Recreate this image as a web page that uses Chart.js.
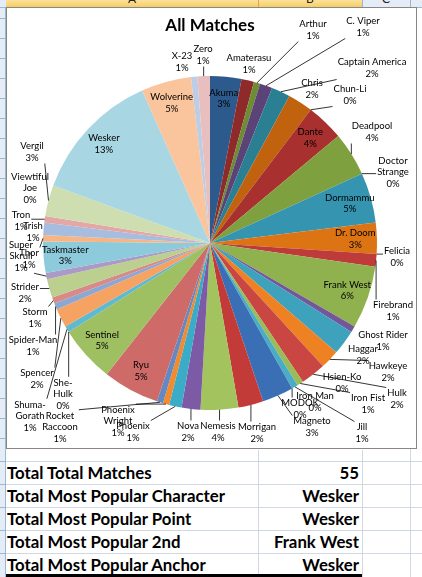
<!DOCTYPE html>
<html>
<head>
<meta charset="utf-8">
<script src="https://cdn.jsdelivr.net/npm/chart.js@4/dist/chart.umd.min.js"></script>
<style>
  body { margin: 0; width: 422px; height: 577px; overflow: hidden; background: #fff; position: relative; font-family: Lato, sans-serif; }
  .abs { position: absolute; }
  .hl { position: absolute; height: 1px; background: #d0d7e5; }
  .vl { position: absolute; width: 1px; background: #d0d7e5; }
  .cell { position: absolute; font-weight: bold; font-size: 16.8px; color: #000; line-height: 23px; white-space: nowrap; }
</style>
</head>
<body>
<!-- column header strip -->
<div class="abs" style="left:0;top:0;width:422px;height:7px;background:#e4ecf7;border-bottom:1px solid #9eb6ce;"></div>
<div class="abs" style="left:6px;top:0;width:356px;height:7px;background:linear-gradient(#fbe29c,#f6cd63);border-bottom:1px solid #f2a93b;"></div>
<div class="vl" style="left:258px;top:0;height:7px;background:#e1a545"></div>
<div class="vl" style="left:362px;top:0;height:7px;background:#9eb6ce"></div>
<div class="vl" style="left:410px;top:0;height:7px;background:#9eb6ce"></div>
<div class="abs" style="left:128px;top:-9px;font:12px Lato;color:#222">A</div>
<div class="abs" style="left:306px;top:-9px;font:12px Lato;color:#222">B</div>
<div class="abs" style="left:382px;top:-9px;font:12px Lato;color:#222">C</div>
<!-- row header strip -->
<div class="abs" style="left:0;top:8px;width:5px;height:569px;background:#e4ecf7;border-right:1px solid #9eb6ce;"></div>
<div id="rowlines"></div>
<!-- sheet gridlines around table -->
<div class="vl" style="left:258px;top:450px;height:127px"></div>
<div class="vl" style="left:362px;top:450px;height:127px"></div>
<div class="vl" style="left:410px;top:8px;height:569px"></div>
<div class="hl" style="left:6px;top:461px;width:416px"></div>
<div class="hl" style="left:6px;top:484px;width:416px"></div>
<div class="hl" style="left:6px;top:507px;width:416px"></div>
<div class="hl" style="left:6px;top:530px;width:416px"></div>
<div class="hl" style="left:6px;top:553px;width:416px"></div>
<div class="abs" style="left:6px;top:574px;width:356px;height:3px;background:#000"></div>

<!-- chart object -->
<div class="abs" style="left:6px;top:7px;width:411px;height:442px;background:#fff;">
  <canvas id="pie"></canvas>
</div>
<div class="abs" style="left:6px;top:7px;width:409px;height:440px;border:1px solid #878787;pointer-events:none"></div>

<div id="table"></div>

<script>
// characters in sheet order and their match counts
var characters = ["Akuma", "Amaterasu", "Arthur", "C. Viper", "Captain America", "Chris",
  "Chun-Li", "Dante", "Deadpool", "Doctor Strange", "Dormammu", "Dr. Doom",
  "Felicia", "Firebrand", "Frank West", "Ghost Rider", "Haggar", "Hawkeye",
  "Hsien-Ko", "Hulk", "Iron Fist", "Iron Man", "Jill", "MODOK",
  "Magneto", "Morrigan", "Nemesis", "Nova", "Phoenix", "Phoenix Wright",
  "Rocket Raccoon", "Ryu", "Sentinel", "She-Hulk", "Shuma-Gorath", "Spencer",
  "Spider-Man", "Storm", "Strider", "Super Skrull", "Taskmaster", "Thor",
  "Trish", "Tron", "Vergil", "Viewtiful Joe", "Wesker", "Wolverine",
  "X-23", "Zero"];
var counts = [5, 2, 1, 2, 3, 4,
  0, 6, 7, 0, 8, 5,
  0, 2, 10, 1, 4, 3,
  0, 4, 1, 0, 1, 0,
  5, 4, 6, 3, 2, 1,
  1, 9, 9, 0, 1, 3,
  1, 1, 3, 1, 5, 1,
  2, 1, 5, 0, 21, 8,
  1, 2];

var summaryLabels = ["Total Total Matches", "Total Most Popular Character", "Total Most Popular Point",
  "Total Most Popular 2nd", "Total Most Popular Anchor"];
var summaryValues = ["55", "Wesker", "Wesker", "Frank West", "Wesker"];

var sliceColors = [
  "#2c5a8c", "#8e2b2a", "#6e8c34", "#5b4378", "#2b7f93", "#c0620e",
  "#3a6ea8", "#a8302e", "#7fa03e", "#6a4f8f", "#3595b0", "#dd7414",
  "#4579b5", "#be3b3a", "#90b24e", "#74579a", "#3ea2bd", "#ee8222",
  "#4f81bd", "#c94643", "#9bbb59", "#8064a2", "#4bacc6", "#f79646",
  "#3a6fb5", "#c33b38", "#a3c35f", "#7d5aa5", "#3cabc8", "#f28a2e",
  "#6388c2", "#ce6b68", "#9fbf63", "#9a85b8", "#5fbad1", "#f5a263",
  "#8ba8d3", "#d88a88", "#bbd08e", "#ab9ac6", "#8dcadb", "#f8b584",
  "#a7bde0", "#e3a7a5", "#cfdeb0", "#c3b7d6", "#a9d6e3", "#fac49c",
  "#bccde6", "#e8bfbe"];

// outside label centres, offset from pie centre (px at radius 167)
var outsideAt = {
  "Amaterasu": [39, -179], "Arthur": [103, -213], "C. Viper": [153, -216],
  "Captain America": [162, -175], "Chris": [102, -154], "Chun-Li": [140, -148],
  "Deadpool": [162, -111], "Doctor Strange": [183, -71], "Felicia": [187, 14],
  "Firebrand": [183, 68], "Ghost Rider": [173, 98], "Haggar": [153, 112],
  "Hawkeye": [178, 129], "Hsien-Ko": [132, 140], "Hulk": [187, 156],
  "Iron Fist": [158, 161], "Iron Man": [105, 159], "Jill": [152, 190],
  "MODOK": [90, 166], "Magneto": [102, 184], "Morrigan": [47, 190],
  "Nemesis": [8, 189], "Nova": [-22, 189], "Phoenix": [-77, 189],
  "Phoenix Wright": [-92, 178], "Rocket Raccoon": [-150, 184], "She-Hulk": [-147, 151],
  "Shuma-Gorath": [-180, 173], "Spencer": [-173, 136], "Spider-Man": [-177, 103],
  "Storm": [-175, 75], "Strider": [-185, 50], "Super Skrull": [-189, 13],
  "Thor": [-181, 16], "Trish": [-177, -11], "Tron": [-189, -22],
  "Viewtiful Joe": [-180, -55], "Vergil": [-178, -91], "X-23": [-28, -181],
  "Zero": [-7, -188]
};
var wrapped = ["Doctor Strange", "Phoenix Wright", "Rocket Raccoon", "Super Skrull",
  "Viewtiful Joe", "She-Hulk", "Shuma-Gorath"];

function nameLines(name) {
  if (wrapped.indexOf(name) < 0) return [name];
  if (name.indexOf(" ") > 0) { var k = name.indexOf(" "); return [name.slice(0, k), name.slice(k + 1)]; }
  var h = name.indexOf("-") + 1;
  return [name.slice(0, h), name.slice(h)];
}

// row lines in the row header
var rl = document.getElementById("rowlines");
for (var y = 18; y < 450; y += 20) {
  var d = document.createElement("div");
  d.className = "abs";
  d.style.cssText = "left:0;width:5px;height:1px;background:#9eb6ce;top:" + y + "px";
  rl.appendChild(d);
}
[461, 484, 507, 530, 553].forEach(function (y) {
  var d = document.createElement("div");
  d.className = "abs";
  d.style.cssText = "left:0;width:5px;height:1px;background:#9eb6ce;top:" + y + "px";
  rl.appendChild(d);
});

// summary table
var tb = document.getElementById("table");
summaryLabels.forEach(function (t, i) {
  var a = document.createElement("div");
  a.className = "cell";
  a.style.cssText = "left:7px;top:" + (461 + i * 23) + "px";
  a.textContent = t;
  tb.appendChild(a);
  var b = document.createElement("div");
  b.className = "cell";
  b.style.cssText = "right:" + (422 - 359) + "px;top:" + (461 + i * 23) + "px";
  b.textContent = summaryValues[i];
  tb.appendChild(b);
});

var sliceLabels = {
  id: "sliceLabels",
  afterDatasetsDraw: function (chart) {
    var ctx = chart.ctx;
    var meta = chart.getDatasetMeta(0);
    var total = counts.reduce(function (a, b) { return a + b; }, 0);
    ctx.save();
    ctx.font = "9.5px Lato";
    ctx.fillStyle = "#000";
    ctx.strokeStyle = "#000";
    ctx.lineWidth = 0.8;
    ctx.textAlign = "center";
    ctx.textBaseline = "middle";
    meta.data.forEach(function (arc, i) {
      var name = characters[i];
      var mid = (arc.startAngle + arc.endAngle) / 2;
      var r = arc.outerRadius;
      var lines = nameLines(name).concat([Math.round(counts[i] / total * 100) + "%"]);
      var off = outsideAt[name];
      var lx, ly;
      if (!off) {
        lx = arc.x + Math.cos(mid) * r * 0.87;
        ly = arc.y + Math.sin(mid) * r * 0.87;
      } else {
        lx = arc.x + off[0] * r / 167;
        ly = arc.y + off[1] * r / 167;
      }
      var lh = 11.5;
      var h = lines.length * lh;
      var w = Math.max.apply(null, lines.map(function (s) { return ctx.measureText(s).width; }));
      if (off) {
        var ax = arc.x + Math.cos(mid) * r, ay = arc.y + Math.sin(mid) * r;
        var bx = Math.min(Math.max(ax, lx - w / 2 - 1), lx + w / 2 + 1);
        var by = Math.min(Math.max(ay, ly - h / 2), ly + h / 2);
        if (Math.hypot(ax - bx, ay - by) > 6) {
          ctx.beginPath();
          ctx.moveTo(ax, ay);
          ctx.lineTo(bx, by);
          ctx.stroke();
        }
      }
      lines.forEach(function (s, k) {
        ctx.fillText(s, lx, ly - h / 2 + lh * (k + 0.5));
      });
    });
    ctx.restore();
  }
};

new Chart("pie", {
  type: "pie",
  data: {
    labels: characters,
    datasets: [{
      data: counts,
      backgroundColor: sliceColors,
      borderWidth: 0
    }]
  },
  options: {
    responsive: true,
    maintainAspectRatio: false,
    animation: false,
    layout: { padding: { left: 37, right: 40, top: 0, bottom: 39 } },
    plugins: {
      legend: { display: false },
      tooltip: { enabled: false },
      title: {
        display: true,
        text: "All Matches",
        color: "#000",
        font: { family: "Lato", size: 17, weight: "bold" },
        padding: { top: 8, bottom: 40.6 }
      }
    }
  },
  plugins: [sliceLabels]
});
</script>
</body>
</html>
